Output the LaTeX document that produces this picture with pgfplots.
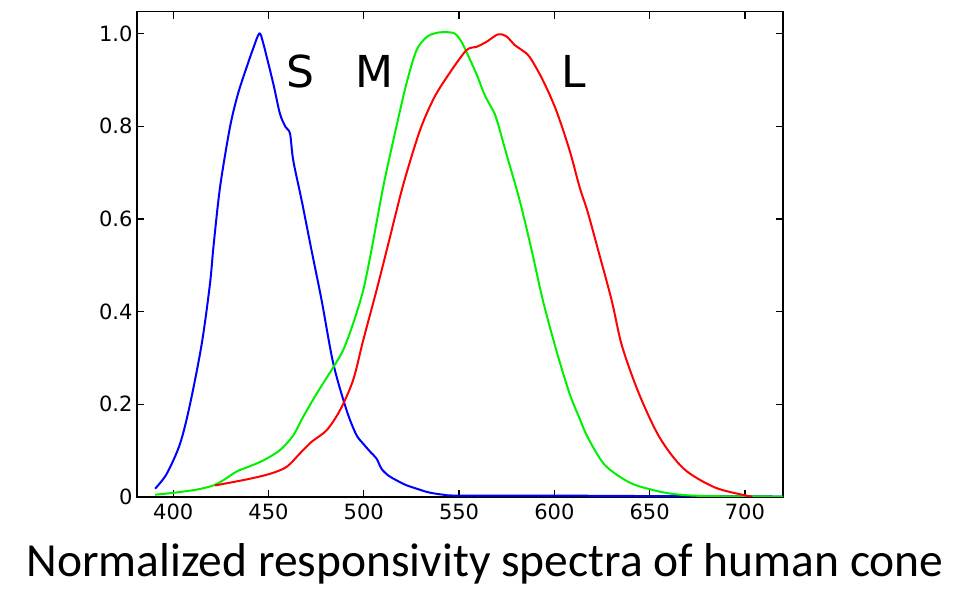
\documentclass[border=0pt]{standalone}
\usepackage{fontspec}
\usepackage{pgfplots}
\pgfplotsset{compat=1.18}
\setmainfont{Carlito}
\newfontfamily\dejavu{DejaVu Sans}
\definecolor{sblue}{RGB}{0,0,255}
\definecolor{mgreen}{RGB}{0,240,0}
\definecolor{lred}{RGB}{255,0,0}
\begin{document}
\begin{tikzpicture}
\useasboundingbox (-137pt,-92pt) rectangle (835pt,497pt);
\begin{axis}[
  at={(0,0)}, anchor=south west,
  scale only axis, width=646pt, height=485.3pt,
  xmin=381, xmax=720, ymin=0, ymax=1.047,
  xtick={400,450,500,550,600,650,700},
  xticklabels={400,450,500,550,600,650,700},
  ytick={0,0.2,0.4,0.6,0.8,1.0},
  yticklabels={0,0.2,0.4,0.6,0.8,1.0},
  tick pos=both, tick align=inside,
  major tick length=7pt,
  every tick/.style={black, line width=1.3pt},
  axis line style={line width=1.5pt},
  tick label style={font=\dejavu\fontsize{21}{21}\selectfont},
  xticklabel style={yshift=-3pt},
  yticklabel style={xshift=-1pt},
  clip=true,
]
\addplot[sblue, line width=2pt, smooth, tension=0.5] coordinates {
(390.5,0.018) (396.6,0.050) (403.6,0.115) (408.9,0.2015) (415.0,0.331) (419.3,0.46)
(421.1,0.539) (424.6,0.669) (429.8,0.798) (434,0.87) (438.6,0.928) (442,0.968) (445.2,1.0)
(447.3,0.978) (452.5,0.892) (456.0,0.827) (459,0.798) (461.3,0.784) (463.0,0.726)
(467.4,0.640) (472.6,0.532) (477.9,0.424) (484.0,0.288) (491.0,0.187) (496,0.135)
(499.7,0.115) (503.5,0.097) (506.7,0.083) (509.3,0.061) (513,0.046) (517.2,0.036)
(522,0.026) (527.7,0.018) (534,0.010) (541.6,0.005) (550,0.003) (600,0.003) (650,0.002) (720,0.001)
};
\addplot[mgreen, line width=2pt, smooth, tension=0.5] coordinates {
(390.5,0.005) (400.1,0.009) (412.4,0.016) (421.1,0.025) (427,0.038) (433.3,0.055)
(440,0.066) (447.3,0.079) (456.0,0.101) (463.0,0.133) (468.2,0.173) (475.3,0.223)
(484.0,0.280) (489.2,0.317) (494.4,0.374) (499.7,0.446) (504.1,0.534) (510.2,0.669)
(516.3,0.784) (522.4,0.892) (527.7,0.964) (532.9,0.992) (537,1.0) (541.6,1.003)
(547.7,1.0) (551.3,0.982) (553.9,0.960) (559.1,0.913) (563.5,0.867) (568.7,0.827)
(570.4,0.806) (574.8,0.741) (581.8,0.640) (587.9,0.536) (594.0,0.424) (601.0,0.317)
(608.0,0.223) (612.9,0.173) (617.6,0.128) (626.5,0.069) (639.1,0.032) (649.9,0.017)
(662.4,0.0065) (680,0.002) (720,0.001)
};
\addplot[lred, line width=2pt, smooth, tension=0.5] coordinates {
(422.0,0.025) (438.6,0.038) (450.8,0.050) (459.5,0.065) (466.5,0.094) (472.6,0.119)
(480.5,0.144) (487.5,0.187) (494.4,0.252) (499.7,0.338) (506.7,0.446) (512.8,0.545)
(520.6,0.672) (529.4,0.790) (537,0.862) (545.1,0.915) (553.9,0.964) (559.1,0.971)
(564.4,0.982) (570.4,0.998) (574.8,0.994) (579.2,0.975) (582.7,0.965) (587.1,0.949)
(594.0,0.899) (601.0,0.834) (608.0,0.748) (613.3,0.668) (617.5,0.615) (622.9,0.534)
(630.1,0.424) (635.5,0.326) (644.5,0.222) (655.3,0.128) (667.9,0.061) (684.0,0.021)
(700.1,0.0035) (703.9,0.001)
};
\node[font=\dejavu\fontsize{44}{44}\selectfont] at (axis cs:466.8,0.918) {S};
\node[font=\dejavu\fontsize{44}{44}\selectfont] at (axis cs:505.8,0.918) {M};
\node[font=\dejavu\fontsize{44}{44}\selectfont] at (axis cs:610.4,0.918) {L};
\end{axis}
\node[anchor=base, font=\fontsize{47.5}{48}\selectfont] at (348pt,-79pt) {Normalized responsivity spectra of human cone};
\end{tikzpicture}
\end{document}
